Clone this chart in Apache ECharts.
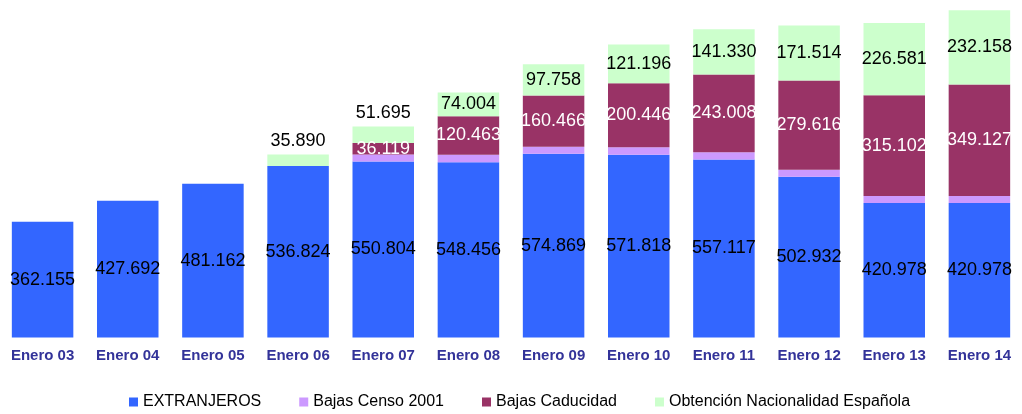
<!DOCTYPE html>
<html>
<head>
<meta charset="utf-8">
<script src="https://cdn.jsdelivr.net/npm/echarts@6/dist/echarts.min.js"></script>
<style>
  html, body { margin: 0; padding: 0; background: #fff; }
  #chart { width: 1022px; height: 414px; }
</style>
</head>
<body>
<div id="chart"></div>
<script>
// categorias del eje X
var categorias = ["Enero 03", "Enero 04", "Enero 05", "Enero 06", "Enero 07", "Enero 08",
  "Enero 09", "Enero 10", "Enero 11", "Enero 12", "Enero 13", "Enero 14"];

var extranjeros = [362155, 427692, 481162, 536824, 550804, 548456, 574869, 571818, 557117, 502932, 420978, 420978];
var bajasCenso = [null, null, null, null, 22000, 23500, 22000, 23500, 23000, 22000, 22000, 22000];
var bajasCaducidad = [null, null, null, null, 36119, 120463, 160466, 200446, 243008, 279616, 315102, 349127];
var nacionalidad = [null, null, null, 35890, 51695, 74004, 97758, 121196, 141330, 171514, 226581, 232158];

// numeros con punto de miles
function fmt(p) {
  return String(p.value).replace(/\B(?=(\d{3})+(?!\d))/g, ".");
}

var chart = echarts.init(document.getElementById("chart"));

var labelBase = {
  show: true,
  position: "inside",
  fontFamily: "Liberation Sans, Arial, sans-serif",
  fontSize: 18,
  formatter: fmt
};

chart.setOption({
  animation: false,
  grid: { left: -0.5, width: 1031.4, top: 2, bottom: 76.5 },
  legend: {
    left: 129,
    top: 394,
    padding: 0,
    icon: "rect",
    itemWidth: 9,
    itemHeight: 9,
    itemGap: 38,
    textStyle: { fontFamily: "Liberation Sans, Arial, sans-serif", fontSize: 16, color: "#000" },
    data: ["EXTRANJEROS", "Bajas Censo 2001", "Bajas Caducidad", "Obtención Nacionalidad Española"]
  },
  xAxis: {
    type: "category",
    data: categorias,
    axisLine: { show: false },
    axisTick: { show: false },
    axisLabel: {
      margin: 11,
      fontFamily: "Liberation Sans, Arial, sans-serif",
      fontSize: 15,
      fontWeight: "bold",
      color: "#333399"
    }
  },
  yAxis: {
    type: "value",
    min: 0,
    max: 1050000,
    show: false,
    splitLine: { show: false }
  },
  series: [
    {
      name: "EXTRANJEROS",
      type: "bar",
      stack: "total",
      barWidth: 61.5,
      itemStyle: { color: "#3366FF" },
      label: Object.assign({}, labelBase, { color: "#000" }),
      data: extranjeros
    },
    {
      name: "Bajas Censo 2001",
      type: "bar",
      stack: "total",
      itemStyle: { color: "#CC99FF" },
      data: bajasCenso
    },
    {
      name: "Bajas Caducidad",
      type: "bar",
      stack: "total",
      itemStyle: { color: "#993366" },
      label: Object.assign({}, labelBase, { color: "#fff" }),
      data: bajasCaducidad
    },
    {
      name: "Obtención Nacionalidad Española",
      type: "bar",
      stack: "total",
      itemStyle: { color: "#CCFFCC" },
      label: Object.assign({}, labelBase, { color: "#000" }),
      data: nacionalidad.map(function (v, i) {
        // los segmentos pequeños llevan la etiqueta encima
        if (v !== null && v < 60000) {
          return { value: v, label: { position: "top", distance: 4 } };
        }
        return v;
      })
    }
  ]
});
</script>
</body>
</html>
